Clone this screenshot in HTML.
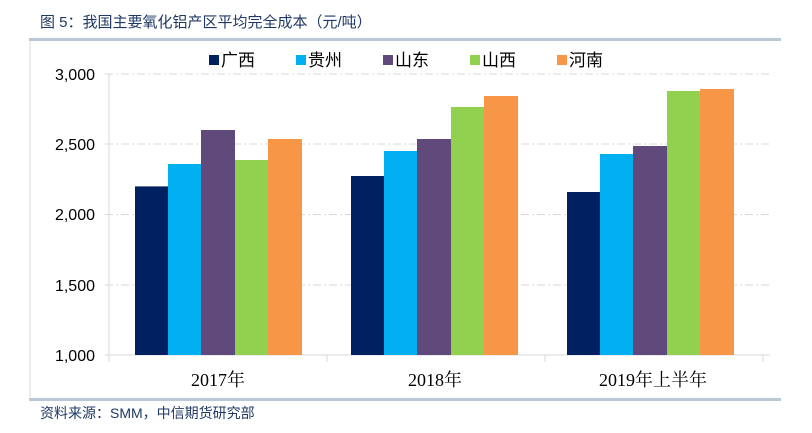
<!DOCTYPE html><html><head><meta charset="utf-8"><style>body{margin:0;background:#fff;width:812px;height:433px;overflow:hidden;font-family:"Liberation Sans","Noto Sans CJK SC",sans-serif}</style></head><body>
<svg width="812" height="433" xmlns="http://www.w3.org/2000/svg" style="position:absolute;left:0;top:0">
<text x="40" y="27" font-size="15" fill="#1f3864" font-family="Liberation Sans,Noto Sans CJK SC,sans-serif">图 5：我国主要氧化铝产区平均完全成本（元/吨）</text>
<rect x="29" y="38" width="752" height="3" fill="#b8c8d8"/>
<line x1="30" y1="41" x2="30" y2="397" stroke="#d9d9d9"/>
<rect x="29" y="398" width="752" height="3" fill="#b8c8d8"/>
<text x="40" y="418" font-size="14" fill="#1f3864" font-family="Liberation Sans,Noto Sans CJK SC,sans-serif">资料来源：SMM，中信期货研究部</text>
<g stroke="#d9d9d9" stroke-dasharray="8,3,2,3">
<line x1="105" y1="74" x2="770" y2="74"/><line x1="105" y1="144" x2="770" y2="144"/><line x1="105" y1="214.5" x2="770" y2="214.5"/><line x1="105" y1="285" x2="770" y2="285"/></g>
<g stroke="#d9d9d9"><line x1="109" y1="74" x2="109" y2="362"/><line x1="105" y1="355" x2="770" y2="355"/><line x1="327" y1="355" x2="327" y2="362"/><line x1="545" y1="355" x2="545" y2="362"/><line x1="763" y1="355" x2="763" y2="362"/></g>
<g font-size="16" fill="#000" text-anchor="end"><text x="95" y="80">3,000</text><text x="95" y="150">2,500</text><text x="95" y="220">2,000</text><text x="95" y="291">1,500</text><text x="95" y="361">1,000</text></g>
<g font-size="18" fill="#000" text-anchor="middle" font-family="Liberation Serif,Noto Serif CJK SC,serif"><text x="218" y="386">2017年</text><text x="435" y="386">2018年</text><text x="653" y="386">2019年上半年</text></g>
<g font-size="17" font-family="Liberation Sans,Noto Sans CJK SC,sans-serif">
<rect x="209" y="55" width="10" height="10" fill="#002060"/><text x="221" y="66">广西</text>
<rect x="296" y="55" width="10" height="10" fill="#00b0f0"/><text x="308" y="66">贵州</text>
<rect x="383" y="55" width="10" height="10" fill="#604a7b"/><text x="395" y="66">山东</text>
<rect x="470" y="55" width="10" height="10" fill="#92d050"/><text x="482" y="66">山西</text>
<rect x="557" y="55" width="10" height="10" fill="#f79646"/><text x="569" y="66">河南</text></g>
<g>
<rect x="135" y="186.4" width="33" height="168.6" fill="#002060"/><rect x="168" y="164" width="33" height="191" fill="#00b0f0"/><rect x="201" y="130" width="34" height="225" fill="#604a7b"/><rect x="235" y="160" width="33" height="195" fill="#92d050"/><rect x="268" y="139" width="34" height="216" fill="#f79646"/>
<rect x="351" y="176" width="33" height="179" fill="#002060"/><rect x="384" y="151" width="33" height="204" fill="#00b0f0"/><rect x="417" y="139" width="34" height="216" fill="#604a7b"/><rect x="451" y="107" width="33" height="248" fill="#92d050"/><rect x="484" y="96" width="34" height="259" fill="#f79646"/>
<rect x="567" y="192" width="33" height="163" fill="#002060"/><rect x="600" y="154" width="33" height="201" fill="#00b0f0"/><rect x="633" y="146" width="34" height="209" fill="#604a7b"/><rect x="667" y="91" width="33" height="264" fill="#92d050"/><rect x="700" y="89" width="34" height="266" fill="#f79646"/>
</g></svg></body></html>
